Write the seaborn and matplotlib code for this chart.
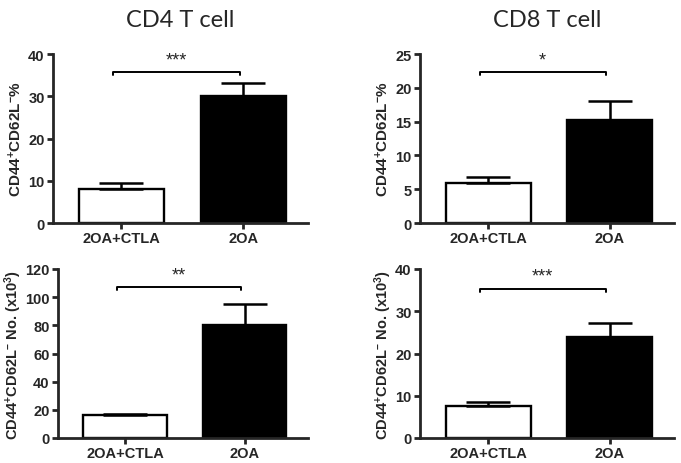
import matplotlib
matplotlib.use("Agg")
import matplotlib.pyplot as plt
import seaborn as sns
import pandas as pd

groups = ["2OA+CTLA", "2OA"]

cd4_pct_mean = [8.0, 30.0]
cd4_pct_err = [1.4, 3.1]
cd8_pct_mean = [5.9, 15.3]
cd8_pct_err = [0.9, 2.8]
cd4_no_mean = [16.0, 80.0]
cd4_no_err = [0.7, 15.0]
cd8_no_mean = [7.6, 24.0]
cd8_no_err = [1.0, 3.2]

titles = ["CD4 T cell", "CD8 T cell"]
stars = ["***", "*", "**", "***"]
bracket_y = [35.7, 22.3, 107.0, 35.3]
ylims = [40, 25, 120, 40]
yticks = [[0, 10, 20, 30, 40], [0, 5, 10, 15, 20, 25],
          [0, 20, 40, 60, 80, 100, 120], [0, 10, 20, 30, 40]]
ylabels = [r"CD44$^{+}$CD62L$^{-}$%", r"CD44$^{+}$CD62L$^{-}$%",
           r"CD44$^{+}$CD62L$^{-}$ No. (x10$^{3}$)",
           r"CD44$^{+}$CD62L$^{-}$ No. (x10$^{3}$)"]

sns.set_style("ticks")
plt.rcParams["font.family"] = ["Liberation Sans", "DejaVu Sans"]
plt.rcParams["mathtext.fontset"] = "custom"
plt.rcParams["mathtext.rm"] = "Liberation Sans:bold"
plt.rcParams["mathtext.bf"] = "Liberation Sans:bold"
plt.rcParams["mathtext.it"] = "Liberation Sans:bold"
plt.rcParams["mathtext.default"] = "bf"

fig = plt.figure(figsize=(6.81, 4.64), dpi=100)
W, H = 681, 464
def axpos(l, r, t, b):
    return [l / W, 1 - b / H, (r - l) / W, (b - t) / H]

positions = [axpos(53, 308, 55, 224), axpos(420, 674, 55, 224),
             axpos(58, 308, 270, 439), axpos(420, 674, 270, 439)]

means = [cd4_pct_mean, cd8_pct_mean, cd4_no_mean, cd8_no_mean]
errs = [cd4_pct_err, cd8_pct_err, cd4_no_err, cd8_no_err]

for i in range(4):
    ax = fig.add_axes(positions[i])
    df = pd.DataFrame({"group": groups, "value": means[i]})
    sns.barplot(data=df, x="group", y="value", hue="group",
                palette=["white", "black"], edgecolor="black",
                linewidth=1.7, width=0.7, legend=False, ax=ax, errorbar=None)
    ax.errorbar([0, 1], means[i], yerr=[[0, 0], errs[i]], fmt="none",
                ecolor="black", elinewidth=1.8, capsize=15.5, capthick=1.8,
                zorder=1)
    ax.set_xlim(-0.56, 1.53)
    ax.set_ylim(0, ylims[i])
    ax.set_yticks(yticks[i])
    ax.set_xlabel("")
    ax.set_ylabel(ylabels[i], fontsize=11 if i < 2 else 10.5,
                  fontweight="bold", labelpad=3 if i < 2 else 1)
    for s in ["top", "right"]:
        ax.spines[s].set_visible(False)
    for s in ["left", "bottom"]:
        ax.spines[s].set_linewidth(2.0)
    ax.tick_params(axis="both", width=2.0, length=4.5, direction="out",
                   labelsize=10.5, pad=1.5)
    for lab in ax.get_xticklabels() + ax.get_yticklabels():
        lab.set_fontweight("bold")
    # significance bracket
    by = bracket_y[i]
    drop = ylims[i] * 0.018
    ax.plot([-0.07, -0.07, 0.97, 0.97], [by - drop, by, by, by - drop],
            color="black", lw=1.4, clip_on=False)
    ax.annotate(stars[i], xy=(0.45, by), xytext=(0, 3),
                textcoords="offset points", ha="center", va="bottom",
                fontsize=13, annotation_clip=False)
    if i < 2:
        ax.set_title(titles[i], fontsize=17, family=["Lato", "DejaVu Sans"],
                     pad=20)

fig.savefig("out.png", dpi=100, facecolor="white")
